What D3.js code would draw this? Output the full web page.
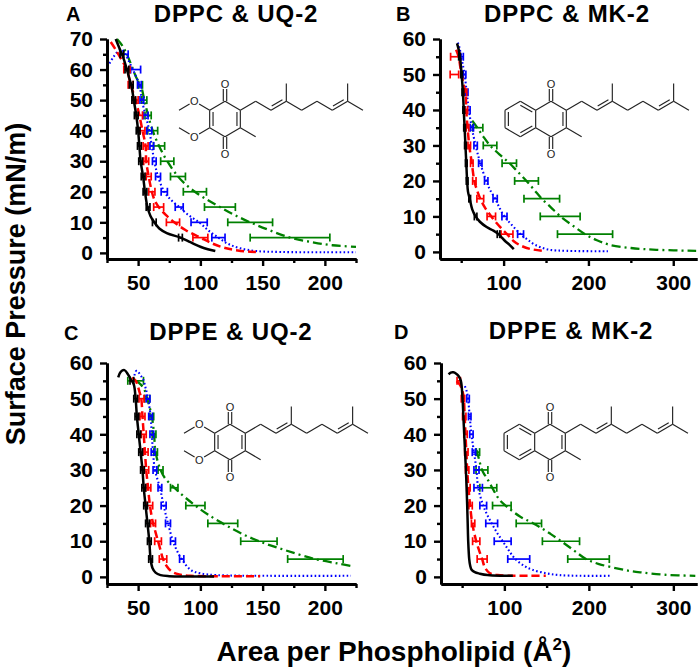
<!DOCTYPE html>
<html>
<head>
<meta charset="utf-8">
<script src="https://cdn.jsdelivr.net/npm/d3@7"></script>
<style>
body { margin: 0; background: #fff; }
svg { display: block; }
text { font-family: "Liberation Sans", Arial, sans-serif; }
</style>
</head>
<body>
<svg id="fig" width="699" height="668"></svg>
<script>
// tick values
var areaTicksNarrow = [50, 100, 150, 200];
var areaMinorNarrow = [25, 75, 125, 175, 225];
var areaTicksWide = [100, 200, 300];
var areaMinorWide = [50, 150, 250];
var piTicks70 = [0, 10, 20, 30, 40, 50, 60, 70];
var piMinor70 = [5, 15, 25, 35, 45, 55, 65];
var piTicks60 = [0, 10, 20, 30, 40, 50, 60];
var piMinor60 = [5, 15, 25, 35, 45, 55];

var panelLetters = ["A", "B", "C", "D"];
var panelTitles = ["DPPC & UQ-2", "DPPC & MK-2", "DPPE & UQ-2", "DPPE & MK-2"];
var molecules = ["UQ", "MK", "UQ", "MK"];

// isotherms: [area, pressure]; error bars: [pressure, area, half width]
var A_black = [[32,70],[35,67],[38,64],[41,60],[43,57],[44.5,55],[46.5,50],[48.5,45],[50,40],[51,35],[52,30],[54,25],[55.5,20],[57.5,15],[60,12],[63,10],[67,8],[73,6.5],[84,5],[92,3.5],[100,2],[106,1.2],[112,0.6]];
var A_blackErr = [[65,37,1.5],[60,41,1.5],[55,44.5,1.5],[50,46.5,1.5],[45,48.5,1.5],[40,50,1.5],[35,51,1.5],[30,52,1.5],[25,54,1.5],[20,55.5,1.5],[15,58,1.5],[10,63,1.5],[5,84,1.5]];
var A_red = [[28,69],[32,66.5],[37,63],[41,60],[44,55],[48,50],[51,45],[53.5,40],[56,35],[56.5,30],[58.5,25],[61,20],[63,17.5],[66.5,15],[72,12.5],[79,10],[88,7.5],[100,5],[110,3],[120,1.6],[130,0.8],[140,0.4],[148,0.3]];
var A_redErr = [[60,41,2.5],[55,44,2],[50,48,2],[45,51,2.5],[40,53.5,2],[35,56,2],[30,56.5,2],[25,58.5,2],[20,61,2.5],[15,66.5,4],[10,78,5.3],[5,100,6]];
var A_blue = [[27,62],[30,64],[34,66],[37,66.5],[41,64],[44,61.5],[48,58],[51,55],[53,50],[56,45],[59,40],[61,35],[63,30],[66,25],[71,20],[76,17.5],[83,15],[90,12.5],[99,10],[106,7.5],[114.5,5],[122,3],[132,1.5],[145,0.6],[165,0.3],[200,0.2],[225,0.2]];
var A_blueErr = [[65,40,2],[60,48,4],[55,51,1.5],[50,53,1.5],[45,56,2],[40,59,2],[35,61,1.5],[30,63,1.5],[25,66,2],[20,71,2.5],[15,83,3.2],[10,99,6.5],[5,114.5,5.3]];
var A_green = [[33,70],[37,68],[41,65],[45,61],[49,57],[52,55],[55,50],[58,45],[61.7,40],[66.8,35],[73.4,30],[82,25],[88,22.5],[95.6,20],[105,17.5],[115.7,15],[127,12.5],[140,10],[155,7.5],[172,5],[190,3.5],[206,2.5],[225,2]];
var A_greenErr = [[55,52,1.5],[50,55,2],[45,58,2.5],[40,61.7,4],[35,66.8,4.5],[30,73.4,5.3],[25,82,6],[20,95.6,9.3],[15,115.7,12.4],[10,140,18],[5,172,32]];

var B_black = [[45,58.8],[46,58],[47.5,56.5],[49,54],[50.5,50],[52,45],[53,40],[54,35],[55,30],[56,25],[57,20],[58,17],[60,15],[63,12],[67,10],[72,8.5],[80,7],[88,6],[94,5],[98,4],[102,3],[107,2],[112,0.8]];
var B_blackErr = [[55,48,1],[50,50.5,1],[45,52,1],[40,53,1],[35,54,1],[30,55,1],[25,56,1],[20,57,1],[15,60,1],[10,67,1.5],[5,94,1.5]];
var B_red = [[44,57],[47,55],[49,52],[50.5,50],[53,47],[55,45],[56,40],[57.5,35],[59.5,30],[62.5,25],[65.5,20],[68.5,17.5],[72.5,15],[78,12.5],[85.5,10],[94,7.5],[104,5],[112,3],[120,1.8],[132,0.8],[147,0.3]];
var B_redErr = [[55,43,5.5],[50,42,5],[45,55,1.5],[40,56,1.5],[35,57.5,1.5],[30,59.5,1.5],[25,62.5,1.5],[20,65.5,2],[15,72.5,4],[10,85.5,5],[5,104,7]];
var B_blue = [[46,59],[48,57.5],[50,55],[52.5,52],[54,50],[56.5,45],[59,40],[62.5,35],[67,30],[72.5,25],[79.5,20],[84,17.5],[90,15],[95,12.5],[101,10],[110,7.5],[120,5],[128,3.5],[137,2],[152,0.7],[175,0.3],[223,0.2]];
var B_blueErr = [[55,51,1.5],[50,54,1.5],[45,56.5,1.5],[40,59,1.5],[35,62.5,2],[30,67,2],[25,72.5,2],[20,79.5,2],[15,90,2.5],[10,101,3],[5,120,3.5]];
var B_green = [[63,37],[69,35],[76,32.5],[84,30],[95,27.5],[107,25],[117,22.5],[127,20],[136,17.5],[145,15],[156,12.5],[167,10],[181,7.5],[196,5],[210,3.3],[225,2],[250,1.1],[280,0.6],[327,0.3]];
var B_greenErr = [[35,69.5,6],[30,84,8],[25,106.7,8.5],[20,127,14],[15,145,21],[10,166.7,23.5],[5,196,32.5]];

var C_black = [[34,56],[36,57.5],[39,58],[41.5,57],[44,55.5],[46.5,54],[48,50],[49,45],[50.5,40],[52,35],[53.5,30],[54.5,25],[56,20],[57.5,15],[59,10],[60,5],[61.5,2.5],[64,1.2],[68,0.5],[75,0.2],[90,0.1],[111,0.1]];
var C_blackErr = [[55,45,1.5],[50,48,1.5],[45,49,1.5],[40,50.5,1.5],[35,52,1.5],[30,53.5,1.5],[25,54.5,1.5],[20,56,1.5],[15,57.5,1.5],[10,59,1.5],[5,60,1.5]];
var C_red = [[45,55.8],[48,55],[51,52],[52.5,50],[53.5,45],[54.5,40],[55.5,35],[56.5,30],[58,25],[59.5,20],[62,15],[64,12.5],[66,10],[68,7.5],[70,5],[73,3],[77,1.5],[83,0.7],[92,0.3],[115,0.2],[148,0.2]];
var C_redErr = [[50,52.7,2],[45,53.5,2],[40,54.5,2],[35,56,2],[30,56.5,2],[25,58.2,2],[20,59.4,2.3],[15,62,2],[10,66,2.7],[5,70,3]];
var C_blue = [[47,56.5],[48.6,57.8],[50,57.5],[52,56.5],[54,55.5],[56,53],[58,50],[60,45],[61,40],[62,35],[63.5,30],[67.5,25],[70.5,20],[74,15],[78,10],[81,7.5],[85,5],[92,2],[100,1],[113,0.5],[154,0.3],[221,0.3]];
var C_blueErr = [[50,58,1.5],[45,60,1.5],[40,61,1.5],[35,62,1.5],[30,63.5,1.5],[25,67.5,1.5],[20,70.5,2],[15,74,2],[10,78,2],[5,85,1.7]];
var C_green = [[48,55],[52,54],[55,52.5],[57.3,50],[61,45],[62.8,40],[64,35],[68,30],[72,27.5],[79,25],[87,22.5],[96,20],[106,17.5],[118,15],[131,12.5],[147,10],[168,7.5],[192,5],[210,3.8],[222,3]];
var C_greenErr = [[55,48,6.3],[50,57.3,2],[45,61,1.5],[40,62.8,1.5],[35,64,1.5],[30,68,2],[25,79,3],[20,96,7.7],[15,118,12],[10,147,14.6],[5,192.4,22.3]];

var D_black = [[34,56.8],[36.5,57.3],[39.5,57.4],[43,57],[46,56.3],[48.5,55],[50.5,50],[51.5,45],[52.5,40],[53.5,35],[54.5,30],[55.3,25],[56,20],[56.6,15],[57.2,10],[58.4,5],[59.5,3.2],[61.2,2],[65,1.3],[71,0.9],[80,0.5],[95,0.3],[110,0.3]];
var D_blackErr = [];
var D_red = [[43.5,54.9],[47,54],[50,52.5],[52,50],[53,45],[54,40],[55,35],[56,30],[57.5,25],[59.5,20],[62,15],[66.7,10],[70,7.5],[73.7,5],[77,2.6],[83,1],[92,0.5],[110,0.3],[130,0.3],[149,0.3]];
var D_redErr = [[55,46,2],[50,51,2],[45,52.5,2],[40,54,2],[35,55,2],[30,56,2],[25,57.5,2],[20,60,2],[15,63,2],[10,66.7,4.3],[5,73.7,5.9]];
var D_blue = [[53.3,53.5],[55.5,52],[57,50],[59,45],[61,40],[64,35],[67,30],[69,25],[75,20],[79.5,17.5],[85,15],[91,12.5],[98,10],[105,7.5],[113,5],[124,3],[133,2],[149.6,1],[165,0.5],[190,0.3],[225,0.3]];
var D_blueErr = [[50,57,1.5],[45,59,1.5],[40,61,2],[35,64,2],[30,67,3],[25,69,5],[20,75,4],[15,85,7],[10,98,10],[5,117,13]];
var D_green = [[67,35.6],[70,33],[73.5,30],[77,28.5],[81,27],[88,24],[94.6,21.5],[104,19.5],[118,17],[130,15.5],[141.7,14],[155,12],[169,9.7],[183,7.3],[196.6,5],[212,3.6],[233,2.4],[250,1.6],[264,1.2],[290,0.6],[326,0.3]];
var D_greenErr = [[35,68.7,2],[30,73.5,7],[25,81,10],[20,97,11],[15,129,15],[10,167,22],[5,199.6,24.6]];

var seriesStyle = [
	{ color: "#008000", dash: "9,4,2,4", width: 2.3 },
	{ color: "#0000ff", dash: "1.6,2.4", width: 2.1 },
	{ color: "#ff0000", dash: "8,4", width: 2.5 },
	{ color: "#000000", dash: null, width: 2.5 }
];

var panels = [
	{ xr: [107, 356], yr: [259, 39], xd: [25, 225], yd: [-2, 70], xt: areaTicksNarrow, xm: areaMinorNarrow, yt: piTicks70, ym: piMinor70,
	  lines: [[A_green, A_greenErr], [A_blue, A_blueErr], [A_red, A_redErr], [A_black, A_blackErr]],
	  letter: [66, 20.5], title: [236, 21.5], mol: [225, 119] },
	{ xr: [440, 697], yr: [259, 39], xd: [25, 328], yd: [-2, 60], xt: areaTicksWide, xm: areaMinorWide, yt: piTicks60, ym: piMinor60,
	  lines: [[B_green, B_greenErr], [B_blue, B_blueErr], [B_red, B_redErr], [B_black, B_blackErr]],
	  letter: [396, 20.5], title: [567, 21.5], mol: [551, 119] },
	{ xr: [107, 356], yr: [584, 363], xd: [25, 225], yd: [-2, 60], xt: areaTicksNarrow, xm: areaMinorNarrow, yt: piTicks60, ym: piMinor60,
	  lines: [[C_green, C_greenErr], [C_blue, C_blueErr], [C_red, C_redErr], [C_black, C_blackErr]],
	  letter: [64, 340], title: [231, 340], mol: [230, 442] },
	{ xr: [441, 697], yr: [584, 363], xd: [25, 328], yd: [-2, 60], xt: areaTicksWide, xm: areaMinorWide, yt: piTicks60, ym: piMinor60,
	  lines: [[D_green, D_greenErr], [D_blue, D_blueErr], [D_red, D_redErr], [D_black, D_blackErr]],
	  letter: [394, 339], title: [571, 339], mol: [550, 442] }
];

var svg = d3.select("#fig");

panels.forEach(function(p, i) {
	var g = svg.append("g");
	var x = d3.scaleLinear().domain(p.xd).range(p.xr);
	var y = d3.scaleLinear().domain(p.yd).range(p.yr);

	drawMolecule(g, p.mol[0], p.mol[1], 17.7, molecules[i]);

	var line = d3.line()
	.x(function(d) { return x(d[0]); })
	.y(function(d) { return y(d[1]); })
	.curve(d3.curveCatmullRom.alpha(0.5));

	p.lines.forEach(function(s, k) {
		var st = seriesStyle[k];
		g.append("path")
		.datum(s[0])
		.attr("d", line)
		.attr("fill", "none")
		.attr("stroke", st.color)
		.attr("stroke-width", st.width)
		.attr("stroke-dasharray", st.dash);

		var eb = g.append("g")
		.attr("stroke", st.color)
		.attr("stroke-width", 1.7)
		.selectAll("g")
		.data(s[1])
		.enter().append("g");
		eb.append("line")
		.attr("x1", function(d) { return x(d[1] - d[2]); })
		.attr("x2", function(d) { return x(d[1] + d[2]); })
		.attr("y1", function(d) { return y(d[0]); })
		.attr("y2", function(d) { return y(d[0]); });
		[-1, 1].forEach(function(sign) {
			eb.append("line")
			.attr("x1", function(d) { return x(d[1] + sign * d[2]); })
			.attr("x2", function(d) { return x(d[1] + sign * d[2]); })
			.attr("y1", function(d) { return y(d[0]) - 4; })
			.attr("y2", function(d) { return y(d[0]) + 4; });
		});
	});

	var ax = g.append("g").attr("transform", "translate(0," + p.yr[0] + ")");
	ax.append("g").call(d3.axisBottom(x).tickValues(p.xm).tickSize(4).tickSizeOuter(0).tickFormat(""));
	ax.append("g").call(d3.axisBottom(x).tickValues(p.xt).tickSize(7).tickSizeOuter(0).tickPadding(9));

	var ay = g.append("g").attr("transform", "translate(" + p.xr[0] + ",0)");
	ay.append("g").call(d3.axisLeft(y).tickValues(p.ym).tickSize(4).tickSizeOuter(0).tickFormat(""));
	ay.append("g").call(d3.axisLeft(y).tickValues(p.yt).tickSize(7).tickSizeOuter(0).tickPadding(7));

	g.selectAll(".domain").attr("stroke-width", 2.8).attr("stroke", "#000");
	g.selectAll(".tick line").attr("stroke-width", 2.4).attr("stroke", "#000");
	g.selectAll(".tick text")
	.attr("font-family", "Liberation Sans, Arial, sans-serif")
	.attr("font-size", 21)
	.attr("font-weight", "bold")
	.attr("fill", "#000");

	g.append("text")
	.attr("x", p.letter[0])
	.attr("y", p.letter[1])
	.attr("font-size", 20)
	.attr("font-weight", "bold")
	.text(panelLetters[i]);

	g.append("text")
	.attr("x", p.title[0])
	.attr("y", p.title[1])
	.attr("text-anchor", "middle")
	.attr("font-size", 24)
	.attr("letter-spacing", 0.9)
	.attr("font-weight", "bold")
	.text(panelTitles[i]);
});

svg.append("text")
.attr("transform", "translate(25,284) rotate(-90)")
.attr("text-anchor", "middle")
.attr("font-size", 27)
.attr("font-weight", "bold")
.text("Surface Pressure (mN/m)");

var xt = svg.append("text")
.attr("x", 394)
.attr("y", 661)
.attr("text-anchor", "middle")
.attr("font-size", 28)
.attr("font-weight", "bold");
xt.append("tspan").text("Area per Phospholipid (Å");
xt.append("tspan").attr("font-size", 17).attr("dy", -11).text("2");
xt.append("tspan").attr("dy", 11).text(")");

function drawMolecule(g, cx, cy, L, kind) {
	var s = L * Math.sqrt(3) / 2;
	var m = g.append("g").attr("stroke", "#222").attr("stroke-width", 1.15).attr("fill", "none");
	function add(p, dx, dy) { return [p[0] + dx, p[1] + dy]; }
	function lerp(a, b, t) { return [a[0] + (b[0] - a[0]) * t, a[1] + (b[1] - a[1]) * t]; }
	function bond(a, b) {
		m.append("line").attr("x1", a[0]).attr("y1", a[1]).attr("x2", b[0]).attr("y2", b[1]);
	}
	function trim(a, b, d) {
		var len = Math.hypot(b[0] - a[0], b[1] - a[1]);
		return lerp(a, b, (len - d) / len);
	}
	function inner(a, b, c) { bond(lerp(a, c, 0.22), lerp(b, c, 0.22)); }
	function offset(a, b, d) {
		var len = Math.hypot(b[0] - a[0], b[1] - a[1]);
		var nx = -(b[1] - a[1]) / len * d, ny = (b[0] - a[0]) / len * d;
		return [add(a, nx, ny), add(b, nx, ny)];
	}
	function dbl(a, b) {
		var l1 = offset(a, b, 1.7), l2 = offset(a, b, -1.7);
		bond(l1[0], l1[1]); bond(l2[0], l2[1]);
	}
	function chainDbl(a, b) {
		bond(a, b);
		var l = offset(a, b, -3.2);
		bond(lerp(l[0], l[1], 0.15), lerp(l[0], l[1], 0.85));
	}
	function oxy(p) {
		g.append("text")
		.attr("x", p[0]).attr("y", p[1])
		.attr("text-anchor", "middle")
		.attr("dy", "0.36em")
		.attr("font-size", 11)
		.attr("fill", "#222")
		.text("O");
	}
	var c = [cx, cy];
	var top = [cx, cy - L], ur = [cx + s, cy - L / 2], lr = [cx + s, cy + L / 2];
	var bot = [cx, cy + L], ll = [cx - s, cy + L / 2], ul = [cx - s, cy - L / 2];

	bond(top, ur); bond(ur, lr); bond(lr, bot); bond(bot, ll); bond(ll, ul); bond(ul, top);
	inner(ur, lr, c);

	var o1 = add(top, 0, -L), o2 = add(bot, 0, L);
	dbl(top, trim(top, o1, 5.5)); oxy(o1);
	dbl(bot, trim(bot, o2, 5.5)); oxy(o2);

	bond(lr, add(lr, s, L / 2));

	var p1 = add(ur, s, -L / 2), p2 = add(p1, s, L / 2), p3 = add(p2, s, -L / 2);
	var p4 = add(p3, s, L / 2), p5 = add(p4, s, -L / 2), p6 = add(p5, s, L / 2), p7 = add(p6, s, -L / 2);
	bond(ur, p1); bond(p1, p2); chainDbl(p2, p3); bond(p3, add(p3, 0, -L));
	bond(p3, p4); bond(p4, p5); bond(p5, p6); chainDbl(p6, p7);
	bond(p7, add(p7, 0, -L)); bond(p7, add(p7, s, L / 2));

	if (kind === "UQ") {
		inner(ll, ul, c);
		var om1 = add(ul, -s, -L / 2), om2 = add(ll, -s, L / 2);
		bond(ul, trim(ul, om1, 5.5)); oxy(om1);
		bond(trim(add(om1, -s, L / 2), om1, 5.5), add(om1, -s, L / 2));
		bond(ll, trim(ll, om2, 5.5)); oxy(om2);
		bond(trim(add(om2, -s, -L / 2), om2, 5.5), add(om2, -s, -L / 2));
	} else {
		var bc = [cx - 2 * s, cy];
		var bt = [bc[0], cy - L], bb = [bc[0], cy + L];
		var bll = [bc[0] - s, cy + L / 2], bul = [bc[0] - s, cy - L / 2];
		bond(ul, bt); bond(bt, bul); bond(bul, bll); bond(bll, bb); bond(bb, ll);
		inner(bt, ul, bc); inner(ll, bb, bc); inner(bul, bll, bc);
	}
}
</script>
</body>
</html>
